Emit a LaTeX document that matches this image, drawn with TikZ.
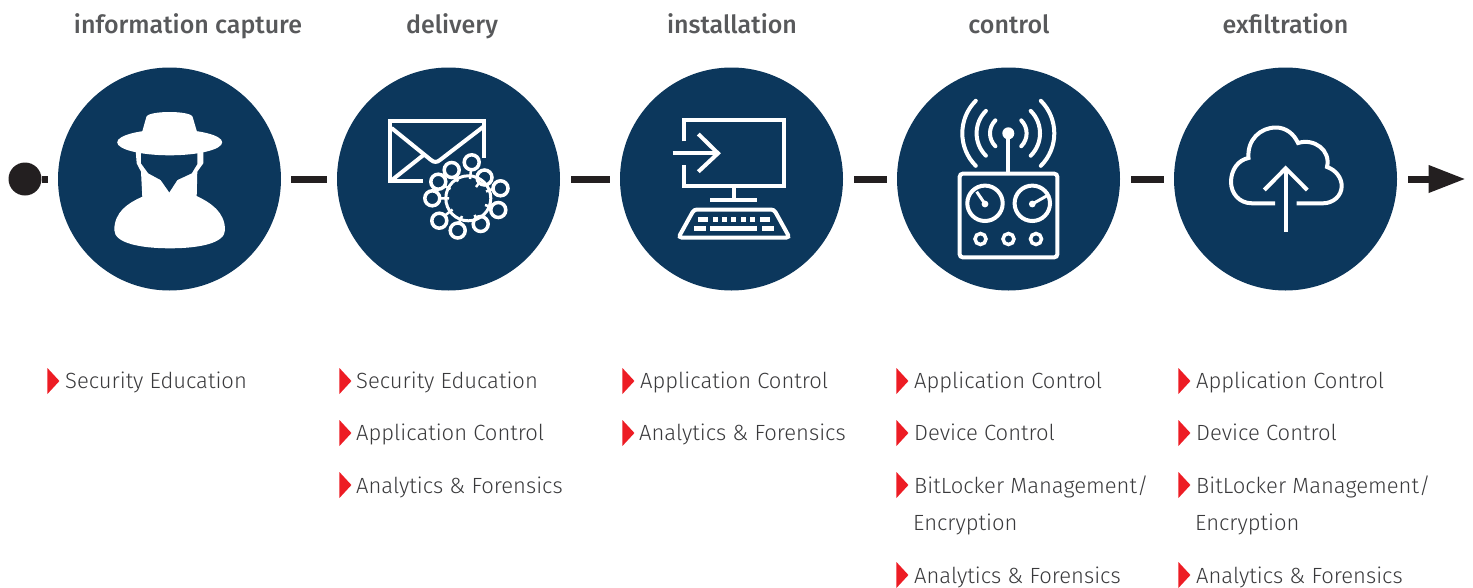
\documentclass[tikz,border=0pt]{standalone}
\usepackage{fontspec}
\setmainfont{Fira Sans}
\newfontfamily\lightfont{Fira Sans Light}
\newfontfamily\mediumfont{Fira Sans Medium}
\usetikzlibrary{positioning}
\usetikzlibrary{arrows.meta,calc,shapes.geometric}
\definecolor{navy}{HTML}{0C375C}
\definecolor{ink}{HTML}{231F20}
\definecolor{mark}{HTML}{ED1C24}
\definecolor{heading}{HTML}{58595B}
\definecolor{body}{HTML}{3A3A3C}
\tikzset{
    chain/.style={x=1pt,y=-1pt},
    stage/.style={circle, fill=navy, inner sep=0pt, minimum size=223pt},
    title/.style={anchor=base, inner sep=0pt, text=heading, font=\fontsize{25}{25}\mediumfont},
    item/.style={anchor=base west, inner sep=0pt, text=body, font=\fontsize{22}{22}\lightfont},
    marker/.style={isosceles triangle, isosceles triangle stretches, fill=mark, inner sep=0pt,
                     minimum width=26pt, minimum height=12pt},
    link/.style={draw=ink, line width=7pt, shorten >=10pt, shorten <=11pt},
    icon/.style={draw=white, line width=4pt},
    }

\begin{document}
\begin{tikzpicture}[chain]
            \useasboundingbox (0,0) rectangle (1473,587);

            \node[stage] (c1) at (169.5,179) {};
            \node[stage] (c2) at (448.5,179) {};
            \node[stage] (c3) at (731.5,179) {};
            \node[stage] (c4) at (1008.5,179) {};
            \node[stage] (c5) at (1285.5,179) {};
            \node[circle, fill=ink, inner sep=0pt, minimum size=33pt] (start) at (25,179) {};
            \coordinate (end) at (1465.5,179);

            \path[link, shorten <=0pt] (start) -- (c1);
            \path[link, shorten <=10pt] (c1) -- (c2);
            \path[link] (c2) -- (c3);
            \path[link] (c3) -- (c4);
            \path[link] (c4) -- (c5);
            \path[link, shorten >=0pt, -{Triangle[length=37pt,width=26pt]}] (c5) -- (end);

            \node[title] (t1) at (188,33) {information capture};
            \node[title] (t2) at (452,33) {delivery};
            \node[title] (t3) at (732,33) {installation};
            \node[title] (t4) at (1009,33) {control};
            \node[title] (t5) at (1285.5,33) {exfiltration};

            % spy
            \fill[white] (135.7,151) -- (136.7,163.3) -- (141,171.7) -- (142.3,196.7)
                .. controls (128,203) and (114.3,212) .. (114.3,230)
                .. controls (114.3,243) and (140,248.3) .. (170,248.3)
                .. controls (200,248.3) and (225,243) .. (225,230)
                .. controls (225,212) and (211,203) .. (196.7,196) -- (197.3,171.7)
                -- (203.3,163.3) -- (203.3,151) -- cycle;
            \fill[navy] (141,150) -- (141,163.3) -- (148.3,173.3) -- (160.7,180) -- (169.3,192.3)
                -- (177.3,180) -- (191.7,173.3) -- (197.3,164) -- (197.3,150) -- cycle;
            \fill[white] (169.7,142.3) ellipse [x radius=52.5, y radius=13];
            \fill[white] (141.7,133.5) -- (146.5,116.5)
                .. controls (150,110.5) and (189,110.5) .. (192.5,116.5) -- (197.5,133.5) -- cycle;

            % envelope
            \draw[icon] (423,181) -- (389.5,181) -- (389.5,120.5) -- (484,120.5) -- (484,158);
            \draw[icon] (391.5,128) -- (431,160) .. controls (434,162.5) and (437,162.5) .. (440,160) -- (483,127);
            \draw[icon] (392,180) -- (423.5,155);

            % virus
            \draw[icon, line width=3pt] (468.3,198.3) circle [radius=22.5];
            \draw[icon, line width=3.5pt] (438.3,181.7) circle [radius=7.5];
            \draw[icon, line width=3.5pt] (432.3,198.3) circle [radius=7.5];
            \draw[icon, line width=3.5pt] (439.3,220.7) circle [radius=7.5];
            \draw[icon, line width=3.5pt] (457.7,230.5) circle [radius=7.5];
            \draw[icon, line width=3.5pt] (480.7,224) circle [radius=7.5];
            \draw[icon, line width=3.5pt] (498.3,210) circle [radius=7.5];
            \draw[icon, line width=3.5pt] (500.5,188.3) circle [radius=7.5];
            \draw[icon, line width=3.5pt] (484.5,177.5) circle [radius=7.5];
            \draw[icon, line width=3.5pt] (471.7,162.3) circle [radius=7.5];
            \draw[icon, line width=3.5pt] (451.7,170) circle [radius=7.5];
            \draw[icon, line width=2.5pt] (444.5,186) -- (450.5,189);
            \draw[icon, line width=2.5pt] (439.8,198.3) -- (449,198.4);
            \draw[icon, line width=2.5pt] (445,215.5) -- (452.5,209.5);
            \draw[icon, line width=2.5pt] (459,223) -- (462,216);
            \draw[icon, line width=2.5pt] (476,217.5) -- (474.5,215);
            \draw[icon, line width=2.5pt] (491.5,207) -- (485,205);
            \draw[icon, line width=2.5pt] (493,189) -- (486,191.5);
            \draw[icon, line width=2.5pt] (479,183) -- (476,187);
            \draw[icon, line width=2.5pt] (471,169.8) -- (470,179);
            \draw[icon, line width=2.5pt] (454,177) -- (458,181.5);

            % monitor
            \draw[icon] (684.3,141.3) -- (684.3,120.3) -- (783.7,120.3) -- (783.7,186.3) -- (684.3,186.3) -- (684.3,165);
            \draw[icon] (672.7,153.3) -- (718,153.3);
            \draw[icon] (698.3,134) -- (718,153.3) -- (698.3,171.7);
            \draw[icon] (734,188) -- (734,199);
            \draw[icon] (710,200) -- (757.3,200);
            \draw[icon, rounded corners=3pt] (694,209.5) -- (774,209.5) -- (789.5,237.5) -- (678.5,237.5) -- cycle;
            \fill[white] (697.7,216.7) rectangle (708.3,221.7);
            \fill[white] (713.3,216.7) rectangle (718.3,221.7);
            \fill[white] (721.7,216.7) rectangle (726.7,221.7);
            \fill[white] (730.7,216.7) rectangle (736,221.7);
            \fill[white] (741,216.7) rectangle (746,221.7);
            \fill[white] (750,216.7) rectangle (755,221.7);
            \fill[white] (760,216.7) rectangle (770,221.7);
            \fill[white] (694,226) rectangle (706,231);
            \fill[white] (710,226) rectangle (757.3,231);
            \fill[white] (762,226) rectangle (774,231);

            % radio
            \draw[icon, line cap=round] ($(1008.3,133.3)+(135:18.3)$) arc [start angle=135, end angle=225, radius=18.3];
            \draw[icon, line cap=round] ($(1008.3,133.3)+(135:31.7)$) arc [start angle=135, end angle=225, radius=31.7];
            \draw[icon, line cap=round] ($(1008.3,133.3)+(135:46)$) arc [start angle=135, end angle=225, radius=46];
            \draw[icon, line cap=round] ($(1008.3,133.3)+(45:18.3)$) arc [start angle=45, end angle=-45, radius=18.3];
            \draw[icon, line cap=round] ($(1008.3,133.3)+(45:31.7)$) arc [start angle=45, end angle=-45, radius=31.7];
            \draw[icon, line cap=round] ($(1008.3,133.3)+(45:46)$) arc [start angle=45, end angle=-45, radius=46];
            \fill[white] (1008.3,133.3) circle [radius=6];
            \draw[icon] (1008.3,133.3) -- (1008.3,172);
            \draw[icon, rounded corners=3pt] (959.7,173.7) rectangle (1057.3,257.3);
            \draw[icon] (985,203.3) circle [radius=17.7];
            \draw[icon] (1032.3,203.3) circle [radius=17.7];
            \fill[white] (985,204) circle [radius=3.4];
            \fill[white] (1032.3,204) circle [radius=3.4];
            \draw[icon, line width=3pt] (985,204) -- (976.7,191.7);
            \draw[icon, line width=3pt] (1032.3,204) -- (1048.3,195);
            \draw[icon, line width=3.5pt] (980.5,239) circle [radius=5.5];
            \draw[icon, line width=3.5pt] (1008.5,239) circle [radius=5.5];
            \draw[icon, line width=3.5pt] (1036,239) circle [radius=5.5];

            % cloud
            \draw[icon] (1275,203.3) -- (1252,203.3)
                .. controls (1239,203.3) and (1231,193) .. (1231,182)
                .. controls (1231,170) and (1238,160) .. (1248.5,158)
                .. controls (1247,140) and (1260,127.5) .. (1276,127.5)
                .. controls (1286,127.5) and (1294,134) .. (1298,143)
                .. controls (1314,138) and (1331,150) .. (1327,167)
                .. controls (1336,170) and (1341.7,178) .. (1341.7,186)
                .. controls (1341.7,196) and (1333,203.3) .. (1323,203.3) -- (1296.7,203.3);
            \draw[icon] (1285.7,231.7) -- (1285.7,170);
            \draw[icon] (1264.3,190) -- (1285.7,168.3) -- (1307.3,190);

            % lists
            \node[marker] (m11) at (52.5,381) {};
            \node[item] (l11) at (65,388) {Security Education};

            \node[marker] (m21) at (344.5,381) {};
            \node[item] (l21) at (356,388) {Security Education};
            \node[marker] (m22) at (344.5,433) {};
            \node[item] (l22) at (356,440) {Application Control};
            \node[marker] (m23) at (344.5,485) {};
            \node[item] (l23) at (356,493) {Analytics \& Forensics};

            \node[marker] (m31) at (627.5,381) {};
            \node[item] (l31) at (640,388) {Application Control};
            \node[marker] (m32) at (627.5,433) {};
            \node[item] (l32) at (639,440) {Analytics \& Forensics};

            \node[marker] (m41) at (901.5,381) {};
            \node[item] (l41) at (914,388) {Application Control};
            \node[marker] (m42) at (901.5,433) {};
            \node[item] (l42) at (914,440) {Device Control};
            \node[marker] (m43) at (901.5,485) {};
            \node[item] (l43) at (914,493) {BitLocker Management/};
            \node[item] (l44) at (913,530) {Encryption};
            \node[marker] (m45) at (901.5,575) {};
            \node[item] (l45) at (914,583) {Analytics \& Forensics};

            \node[marker] (m51) at (1183.5,381) {};
            \node[item] (l51) at (1196,388) {Application Control};
            \node[marker] (m52) at (1183.5,433) {};
            \node[item] (l52) at (1196,440) {Device Control};
            \node[marker] (m53) at (1183.5,485) {};
            \node[item] (l53) at (1196,493) {BitLocker Management/};
            \node[item] (l54) at (1195,530) {Encryption};
            \node[marker] (m55) at (1183.5,575) {};
            \node[item] (l55) at (1196,583) {Analytics \& Forensics};
        \end{tikzpicture}
\end{document}
